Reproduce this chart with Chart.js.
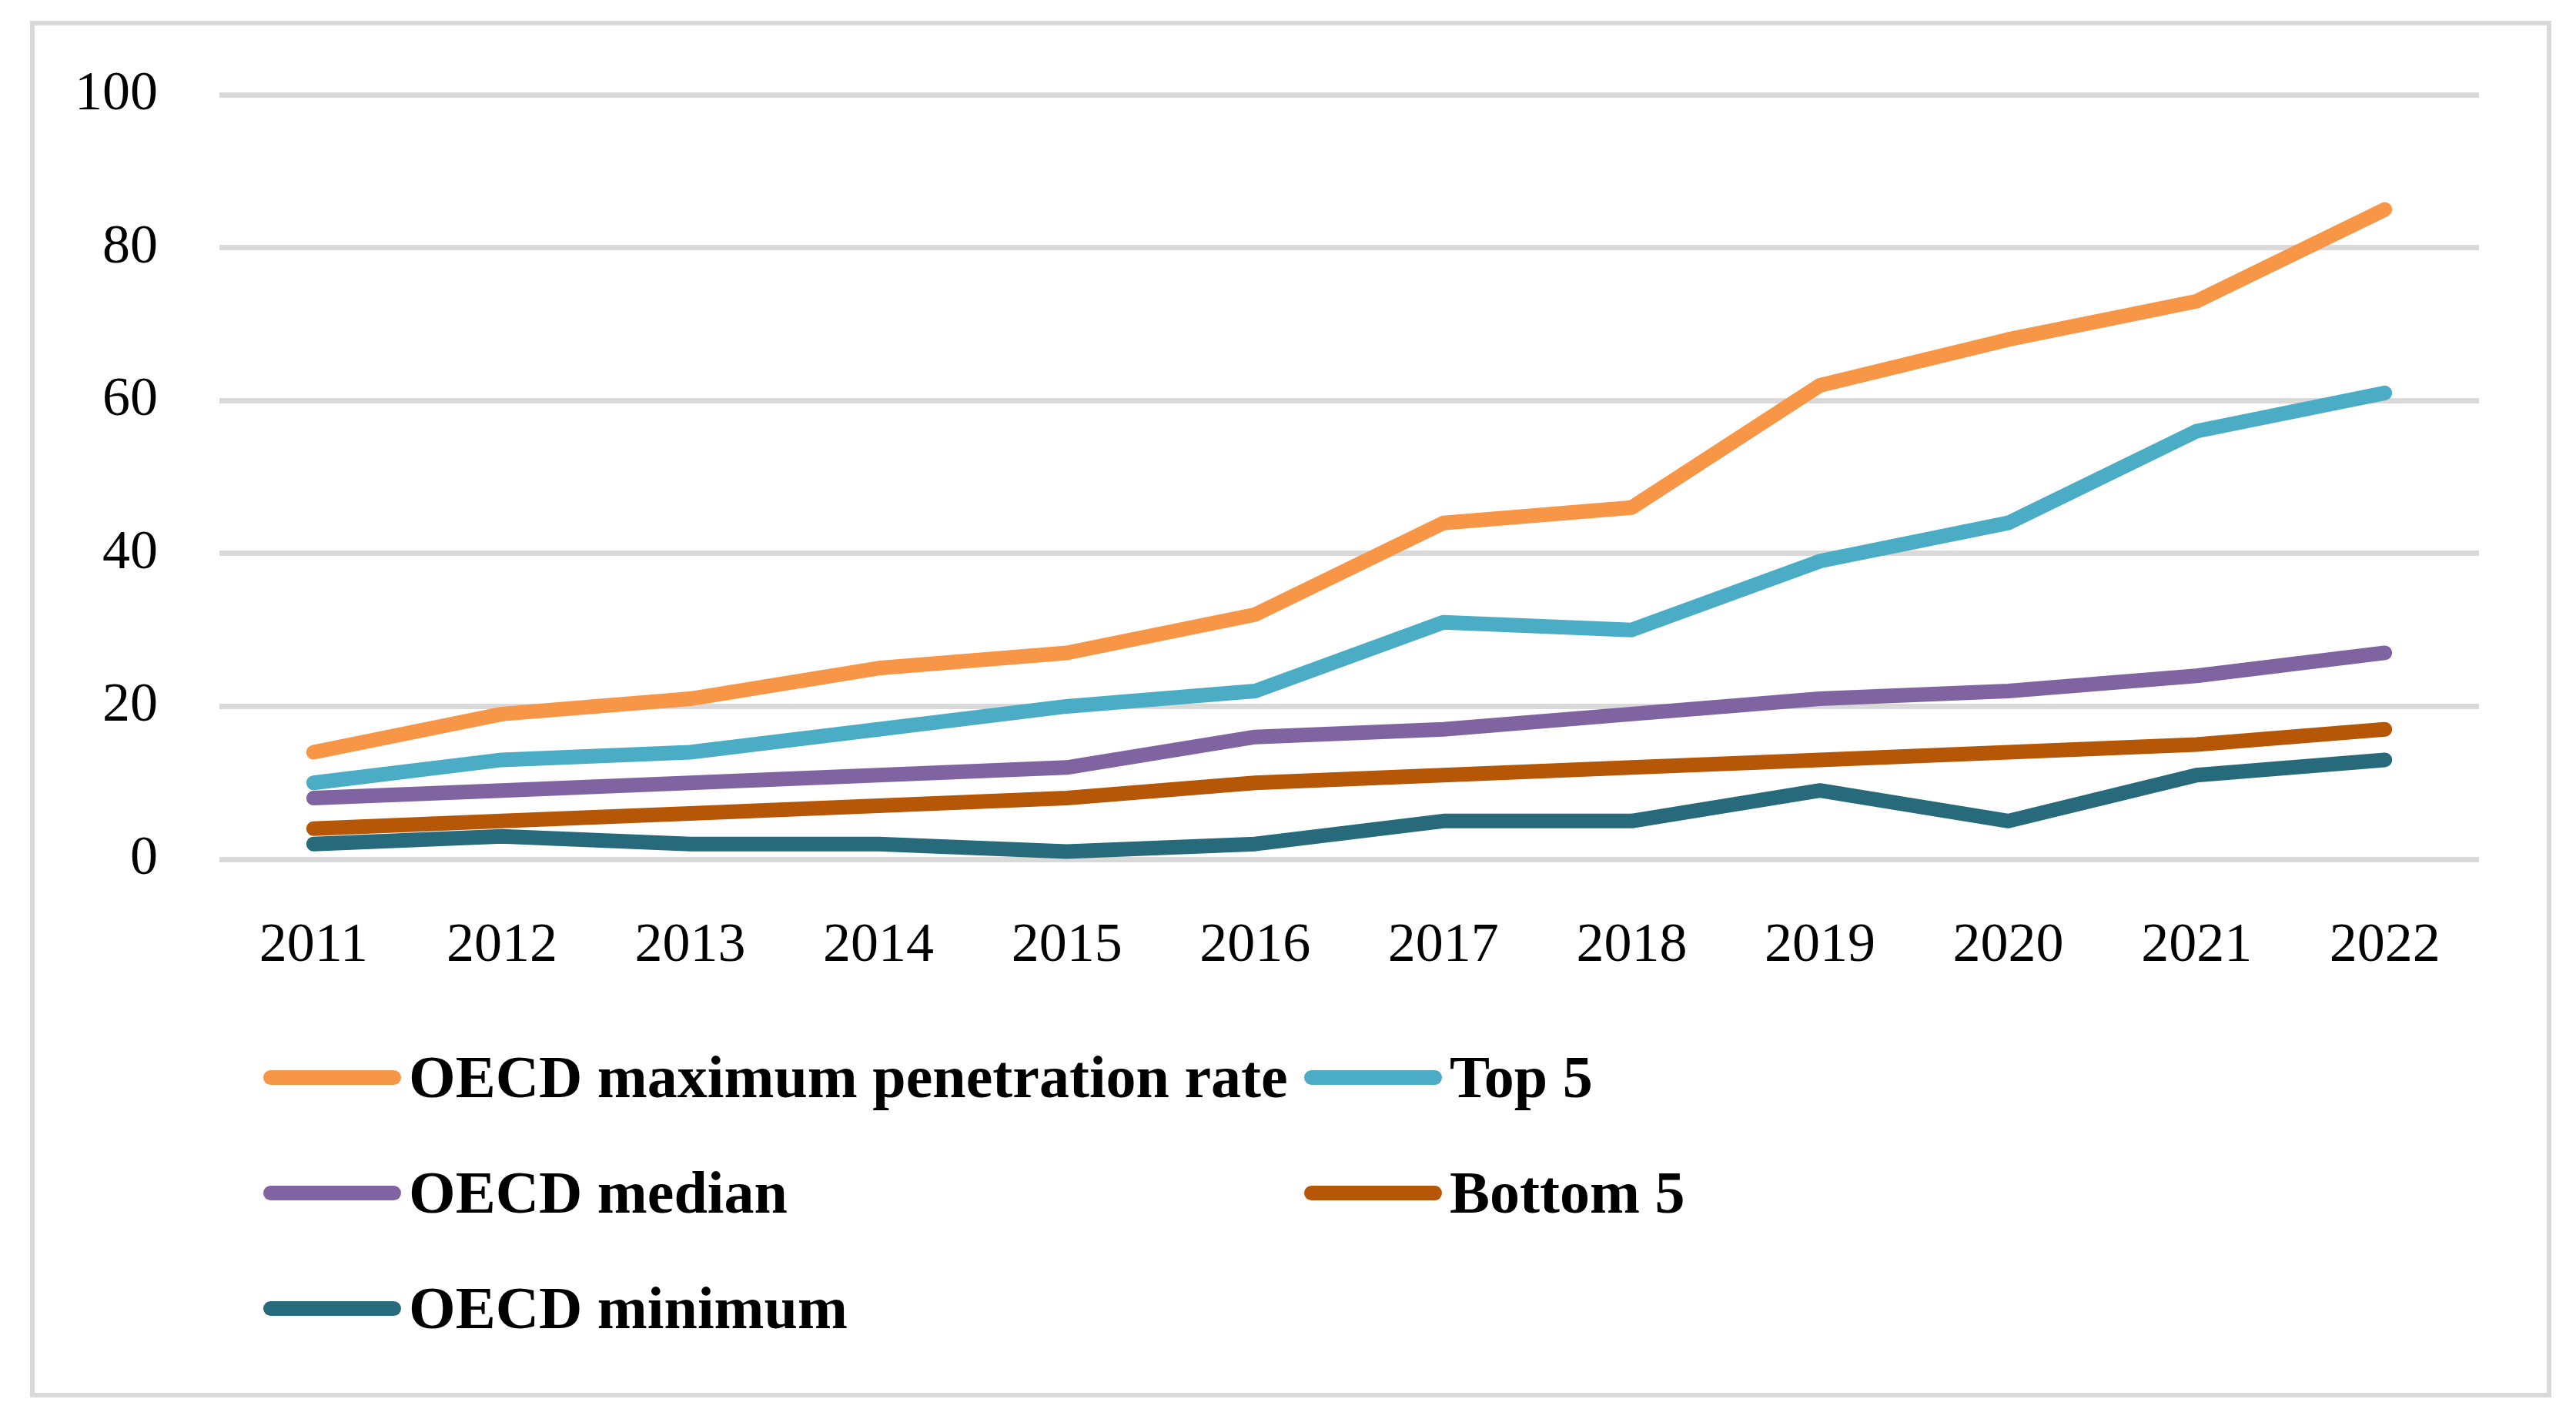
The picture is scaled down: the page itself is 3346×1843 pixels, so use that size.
<!DOCTYPE html>
<html>
<head>
<meta charset="utf-8">
<script src="https://cdn.jsdelivr.net/npm/chart.js@4.4.1/dist/chart.umd.min.js"></script>
<style>
    html, body { margin: 0; padding: 0; background: #fff; overflow: hidden; }
    #wrap { position: relative; width: 3346px; height: 1843px; }
    #frame {
        position: absolute; left: 39px; top: 27px; width: 3275px; height: 1788px;
        box-sizing: border-box; border: 6px solid #d9d9d9;
    }
    #chart { position: absolute; left: 0; top: 0; }
    #legend {
        position: absolute; left: 342px; top: 1324px;
        display: grid; grid-template-columns: 1352px auto; grid-auto-rows: 150px;
        font-family: "Liberation Serif", serif; font-weight: bold; font-size: 78px; color: #000;
    }
    .item { display: flex; align-items: center; white-space: nowrap; }
    .swatch { width: 179px; height: 19px; border-radius: 10px; margin-right: 10px; }
</style>
</head>
<body>
<div id="wrap">
    <div id="frame"></div>
    <canvas id="chart" width="3346" height="1843"></canvas>
    <div id="legend"></div>
</div>
<script>
const years = ["2011", "2012", "2013", "2014", "2015", "2016", "2017", "2018", "2019", "2020", "2021", "2022"];
const seriesNames = ["OECD maximum penetration rate", "Top 5", "OECD median", "Bottom 5", "OECD minimum"];
const oecdMax = [14, 19, 21, 25, 27, 32, 44, 46, 62, 68, 73, 85];
const top5 = [10, 13, 14, 17, 20, 22, 31, 30, 39, 44, 56, 61];
const oecdMedian = [8, 9, 10, 11, 12, 16, 17, 19, 21, 22, 24, 27];
const bottom5 = [4, 5, 6, 7, 8, 10, 11, 12, 13, 14, 15, 17];
const oecdMin = [2, 3, 2, 2, 1, 2, 5, 5, 9, 5, 11, 13];
const colors = ["#f79646", "#4bacc6", "#8064a2", "#b65708", "#266a7b"];

const seriesValues = [oecdMax, top5, oecdMedian, bottom5, oecdMin];

const datasets = seriesNames.map((name, i) => ({
    label: name,
    data: seriesValues[i],
    borderColor: colors[i],
    backgroundColor: colors[i],
    borderWidth: 19,
    borderCapStyle: "round",
    borderJoinStyle: "round",
    pointRadius: 0,
    tension: 0,
    fill: false,
    // later series are painted on top, as in the original
    order: seriesNames.length - i,
}));

const tickFont = { family: "'Liberation Serif', serif", size: 72 };

const chart = new Chart(document.getElementById("chart").getContext("2d"), {
    type: "line",
    data: { labels: years, datasets: datasets },
    options: {
        responsive: false,
        animation: false,
        devicePixelRatio: 1,
        layout: { padding: { top: 123, right: 126, bottom: 0, left: 0 } },
        plugins: {
            legend: { display: false },
            tooltip: { enabled: false },
        },
        scales: {
            x: {
                offset: true,
                grid: { display: false, drawTicks: false },
                border: { display: false },
                ticks: { color: "#000", font: tickFont, padding: 70, maxRotation: 0 },
                afterFit: (scale) => { scale.height = 727; },
            },
            y: {
                min: 0,
                max: 100,
                grid: { color: "#d9d9d9", lineWidth: 7, drawTicks: false },
                border: { display: false },
                ticks: { stepSize: 20, color: "#000", font: tickFont, padding: 80 },
                afterFit: (scale) => { scale.width = 285; },
            },
        },
    },
});

// legend laid out in two columns like the original
const legendEl = document.getElementById("legend");
chart.data.datasets.forEach((ds) => {
    const item = document.createElement("div");
    item.className = "item";
    const swatch = document.createElement("span");
    swatch.className = "swatch";
    swatch.style.background = ds.borderColor;
    item.appendChild(swatch);
    item.appendChild(document.createTextNode(ds.label));
    legendEl.appendChild(item);
});
</script>
</body>
</html>
